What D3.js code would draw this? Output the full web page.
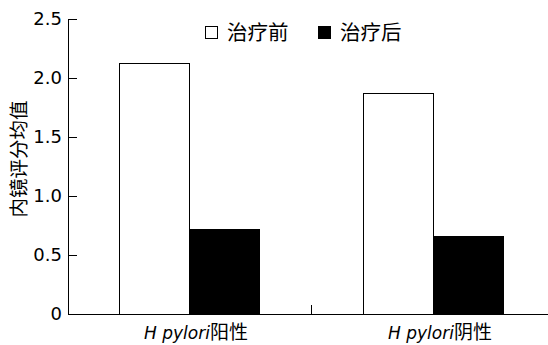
<!DOCTYPE html>
<html><head><meta charset="utf-8">
<script src="https://cdn.jsdelivr.net/npm/d3@7"></script>
<style>body{margin:0;background:#fff}svg{display:block}</style>
</head><body>
<script>
const categories = ["阳性", "阴性"];
const seriesNames = ["治疗前", "治疗后"];
const before = [2.13, 1.87];
const after = [0.72, 0.66];
const yTicks = [0, 0.5, 1.0, 1.5, 2.0, 2.5];
const yTickLabels = ["0", "0.5", "1.0", "1.5", "2.0", "2.5"];
const yTitle = "内镜评分均值";

const W = 548, H = 345;
const svg = d3.select("body").append("svg").attr("width", W).attr("height", H);
const x0 = 68, yTop = 19, yBot = 314;
const x = d3.scaleBand().domain(categories).range([67, 555]).paddingInner(0).paddingOuter(0);
const xs = d3.scaleBand().domain(seriesNames).range([0, x.bandwidth()]).paddingInner(0).paddingOuter(0.743);
const y = d3.scaleLinear().domain([0, 2.5]).range([yBot, yTop]);
const fills = ["#fff", "#000"];
const data = categories.map((c, i) => ({c, vals: [before[i], after[i]]}));

const g = svg.append("g");
data.forEach(d => {
  d.vals.forEach((v, j) => {
    g.append("rect")
      .attr("x", Math.round(x(d.c) + xs(seriesNames[j])) + 0.5)
      .attr("y", Math.round(y(v)) + 0.5)
      .attr("width", Math.round(xs.bandwidth()))
      .attr("height", yBot - Math.round(y(v)))
      .attr("fill", fills[j]).attr("stroke", "#000").attr("stroke-width", 1);
  });
});

// y axis
svg.append("rect").attr("x", x0).attr("y", yTop).attr("width", 1).attr("height", yBot - yTop + 1).attr("fill", "#000");
svg.append("g").selectAll("rect").data(yTicks.filter(d => d > 0)).join("rect")
  .attr("x", x0).attr("width", 9)
  .attr("y", d => Math.round(y(d))).attr("height", 1)
  .attr("fill", "#000");
svg.append("g").selectAll("text").data(yTicks).join("text")
  .attr("x", 62).attr("y", d => y(d)).attr("dy", "0.36em")
  .attr("text-anchor", "end")
  .attr("font-family", "DejaVu Sans, Verdana, sans-serif").attr("font-size", 18)
  .attr("fill", "#000")
  .text((d, i) => yTickLabels[i]);

// x axis
svg.append("rect").attr("x", x0).attr("y", yBot).attr("width", W - x0).attr("height", 1).attr("fill", "#000");
svg.append("rect").attr("x", Math.round(x(categories[1]))).attr("y", yBot - 9).attr("width", 1).attr("height", 9).attr("fill", "#000");

// x labels
categories.forEach(c => {
  const t = svg.append("text").attr("x", x(c) + x.bandwidth() / 2 + 7).attr("y", 339)
    .attr("text-anchor", "middle").attr("font-size", 19).attr("fill", "#000");
  t.append("tspan").attr("font-family", "DejaVu Sans, sans-serif").attr("font-style", "italic").attr("font-size", 17).text("H pylori");
  t.append("tspan").attr("font-family", "Noto Sans CJK SC, sans-serif").text(c);
});

// y title
svg.append("text").attr("transform", `translate(26,159) rotate(-90)`)
  .attr("text-anchor", "middle").attr("font-family", "Noto Sans CJK SC, sans-serif")
  .attr("font-size", 19.5).attr("fill", "#000").text(yTitle);

// legend
const legX = [205, 318];
seriesNames.forEach((s, j) => {
  svg.append("rect").attr("x", legX[j] + 0.5).attr("y", 26.5).attr("width", 12).attr("height", 12)
    .attr("fill", fills[j]).attr("stroke", "#000").attr("stroke-width", 1);
  svg.append("text").attr("x", legX[j] + 22).attr("y", 33).attr("dy", "0.36em")
    .attr("font-family", "Noto Sans CJK SC, sans-serif").attr("font-size", 20.5)
    .attr("fill", "#000").text(s);
});
</script>
</body></html>
